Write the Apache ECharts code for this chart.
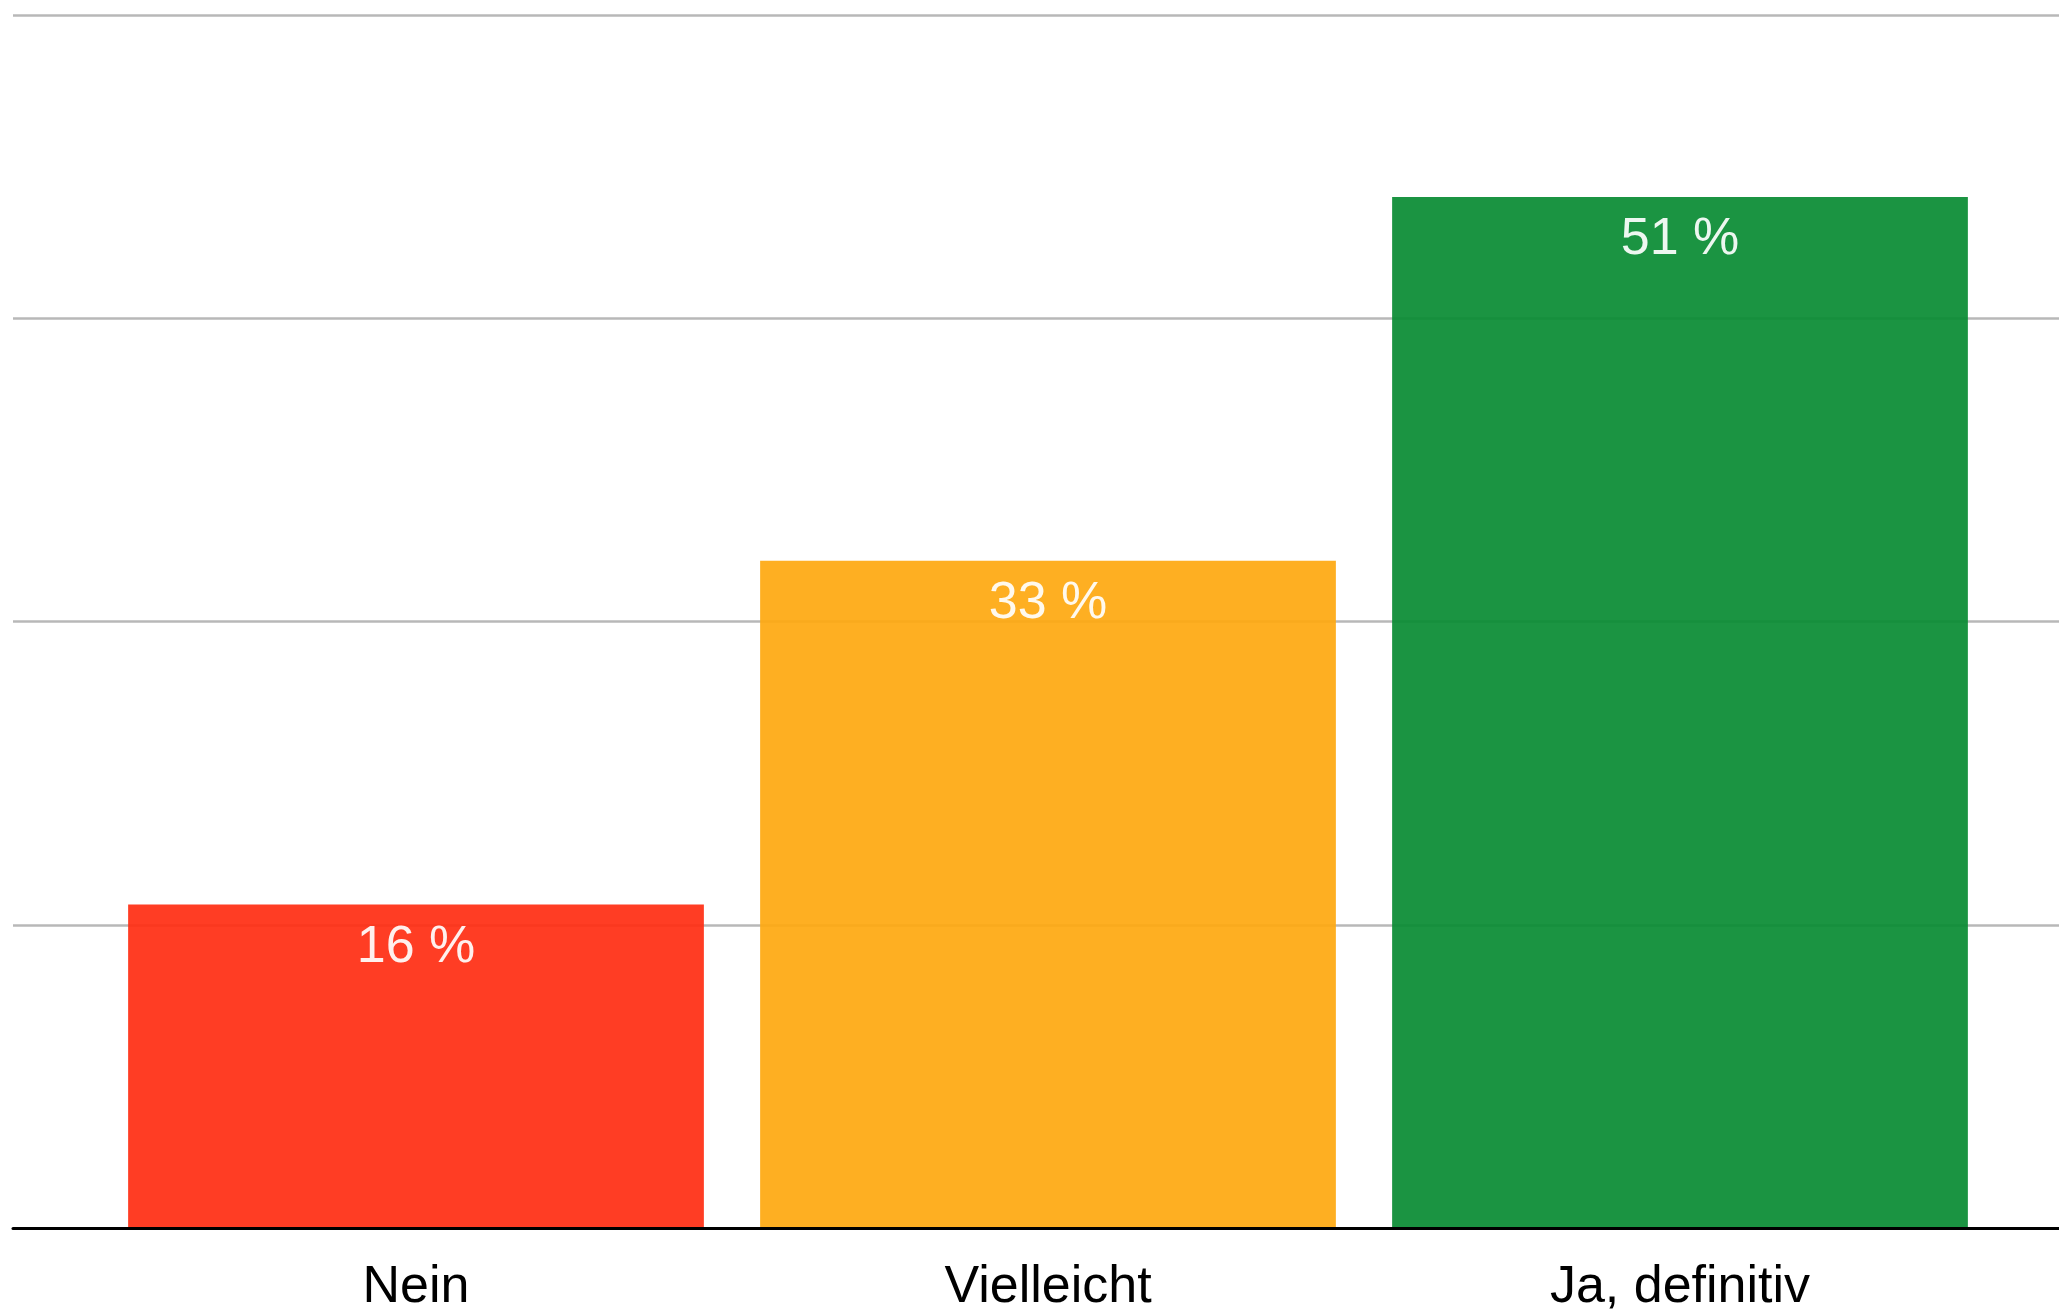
<!DOCTYPE html>
<html>
<head>
<meta charset="utf-8">
<script src="https://cdn.jsdelivr.net/npm/echarts@6/dist/echarts.min.js"></script>
<style>
  html, body { margin: 0; padding: 0; background: #fff; }
  #app { width: 2059px; height: 1310px; }
</style>
</head>
<body>
<div id="app"></div>
<script>
// data
var categories = ['Nein', 'Vielleicht', 'Ja, definitiv'];
var values = [16, 33, 51];
var barColors = ['#FF2C11', '#FEA80F', '#088B32'];
var yTicks = [0, 15, 30, 45, 60];

var font = '"Helvetica Neue", Helvetica, Arial, "Liberation Sans", sans-serif';

var chart = echarts.init(document.getElementById('app'));

chart.setOption({
    backgroundColor: '#ffffff',
    animation: false,
    grid: [
        // full-width grid: only gridlines + baseline
        { left: 13, right: 0, top: 15, bottom: 82, outerBoundsMode: 'none' },
        // grid holding the bars and category labels
        { left: 100, right: 63, top: 15, bottom: 82, outerBoundsMode: 'none' }
    ],
    xAxis: [
        {
            gridIndex: 0,
            type: 'category',
            data: [''],
            axisLine: { show: true, lineStyle: { color: '#000', width: 3 } },
            axisTick: { show: false },
            axisLabel: { show: false },
            z: 5
        },
        {
            gridIndex: 1,
            type: 'category',
            data: categories,
            axisLine: { show: false },
            axisTick: { show: false },
            axisLabel: {
                color: '#000',
                fontSize: 52,
                fontFamily: font,
                margin: 34
            }
        }
    ],
    yAxis: [
        {
            gridIndex: 0,
            type: 'value',
            min: yTicks[0],
            max: yTicks[yTicks.length - 1],
            interval: yTicks[1] - yTicks[0],
            axisLine: { show: false },
            axisTick: { show: false },
            axisLabel: { show: false },
            splitLine: { show: true, lineStyle: { color: '#B8B8B8', width: 2.5 } }
        },
        {
            gridIndex: 1,
            type: 'value',
            min: yTicks[0],
            max: yTicks[yTicks.length - 1],
            interval: yTicks[1] - yTicks[0],
            show: false,
            splitLine: { show: false }
        }
    ],
    series: [{
        type: 'bar',
        xAxisIndex: 1,
        yAxisIndex: 1,
        barCategoryGap: '8.9%',
        data: values.map(function (v, i) {
            return { value: v, itemStyle: { color: barColors[i], opacity: 0.92 } };
        }),
        label: {
            show: true,
            position: 'insideTop',
            distance: 17,
            color: '#fff',
            fontSize: 52,
            fontFamily: font,
            formatter: '{c} %'
        }
    }]
});
</script>
</body>
</html>
